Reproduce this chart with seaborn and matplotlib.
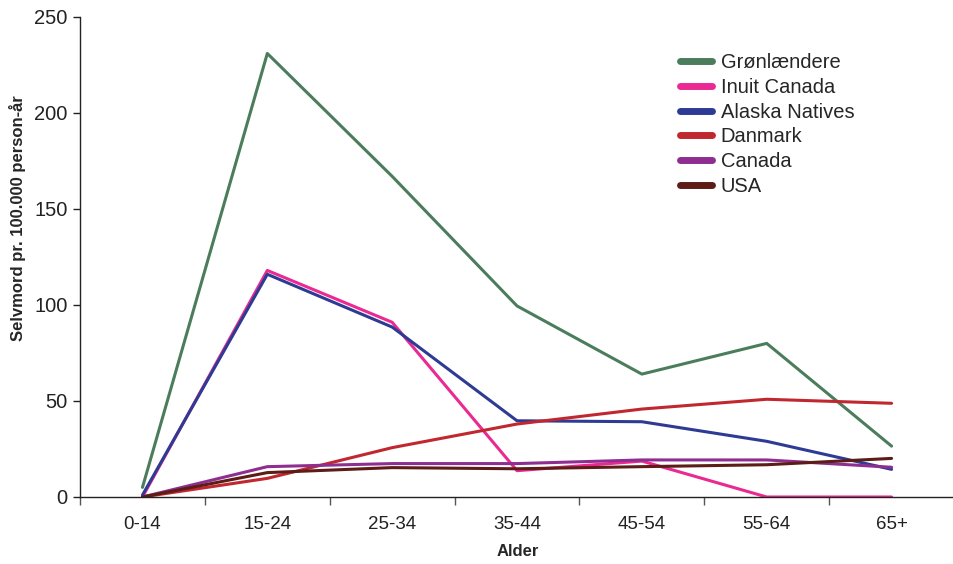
import matplotlib
matplotlib.use("Agg")
import matplotlib.pyplot as plt
from matplotlib.ticker import FixedLocator
import pandas as pd
import seaborn as sns

# Data
ages = ["0-14", "15-24", "25-34", "35-44", "45-54", "55-64", "65+"]
groenlaendere = [5, 231, 167, 99.5, 64, 80, 26.5]
inuit_canada = [0, 118, 91, 13.7, 18.7, 0, 0]
alaska_natives = [1, 116, 88.5, 39.7, 39.2, 29, 14.4]
danmark = [0, 9.7, 25.7, 38, 45.8, 50.9, 48.8]
canada = [0, 15.8, 17.4, 17.4, 19.3, 19.3, 15.5]
usa = [0, 12.7, 15.3, 14.7, 15.8, 16.8, 20.1]

series = {
    "Grønlændere": groenlaendere,
    "Inuit Canada": inuit_canada,
    "Alaska Natives": alaska_natives,
    "Danmark": danmark,
    "Canada": canada,
    "USA": usa,
}
colors = ["#4b7d5c", "#ea2a92", "#2e3b94", "#c1272f", "#8e2e90", "#5b1d16"]

rows = []
for name, vals in series.items():
    for i, v in enumerate(vals):
        rows.append({"age": i, "rate": v, "group": name})
df = pd.DataFrame(rows)

sns.set_theme(style="white")
plt.rcParams["font.family"] = ["Liberation Sans", "DejaVu Sans"]

fig = plt.figure(figsize=(9.54, 5.64), dpi=100)
ax = fig.add_axes([0.0839, 0.1188, 0.9161, 0.8511])

sns.lineplot(data=df, x="age", y="rate", hue="group", palette=colors,
             linewidth=2.2, ax=ax, legend=True)

ax.set_xlim(-0.5, 6.5)
ax.set_ylim(0, 250)
ax.set_yticks([0, 50, 100, 150, 200, 250])
ax.set_xticks(range(len(ages)))
ax.set_xticklabels(ages, family=["Liberation Sans Narrow", "Liberation Sans"],
                   fontsize=13.5)
ax.xaxis.set_minor_locator(FixedLocator([i + 0.5 for i in range(-1, 7)]))
ax.tick_params(axis="x", which="major", length=0, pad=14, colors="#222222")
ax.tick_params(axis="x", which="minor", length=6, width=1, color="#555555",
               direction="out", bottom=True)
ax.tick_params(axis="y", length=5, width=1, color="#222222", direction="out",
               left=True, labelsize=14.5, labelcolor="#222222", pad=4)

for side in ["top", "right"]:
    ax.spines[side].set_visible(False)
for side in ["left", "bottom"]:
    ax.spines[side].set_color("#222222")
    ax.spines[side].set_linewidth(1)

ax.set_xlabel("Alder", fontsize=12, fontweight="bold")
ax.set_ylabel("Selvmord pr. 100.000 person-år", fontsize=12,
              fontweight="bold")
ax.xaxis.set_label_coords(0.501, -0.098)
ax.yaxis.set_label_coords(-0.062, 0.58)

leg = ax.legend(loc="upper left", bbox_to_anchor=(0.686, 0.924), frameon=False,
                fontsize=14.5, handlelength=1.6, labelspacing=0.28,
                handletextpad=0.45, borderaxespad=0, borderpad=0)
for line in leg.get_lines():
    line.set_linewidth(5)

fig.savefig("out.png", dpi=100)
